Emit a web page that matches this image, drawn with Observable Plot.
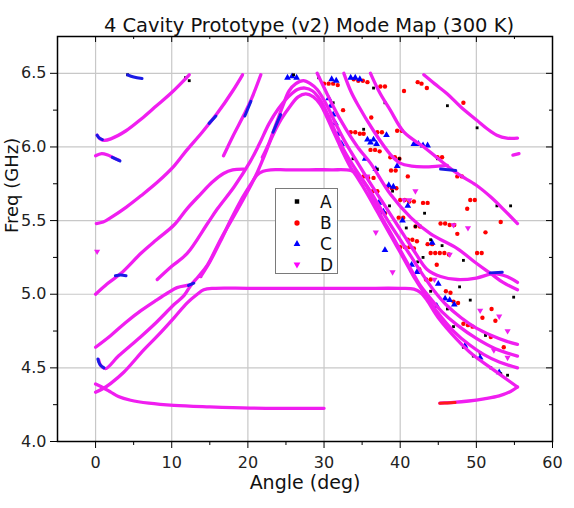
<!DOCTYPE html>
<html><head><meta charset="utf-8">
<script src="https://cdn.jsdelivr.net/npm/d3@7"></script>
<script src="https://cdn.jsdelivr.net/npm/@observablehq/plot@0.6"></script>
<style>
body{margin:0;background:#fff;}
#wrap{position:relative;width:574px;height:508px;}
#legend{position:absolute;left:275px;top:188px;width:61px;height:84px;border:1px solid #7a7a7a;background:#fff;}
#legend svg{overflow:visible;display:block;}
</style></head><body><div id="wrap"><div id="legend"></div></div>
<script>
// ---- axis ticks ----
const xMajor = [0, 10, 20, 30, 40, 50, 60];
const xMinor = [5, 15, 25, 35, 45, 55];
const yMajor = [4.0, 4.5, 5.0, 5.5, 6.0, 6.5];
const yMinor = [4.25, 4.75, 5.25, 5.75, 6.25];
const gridXVals = [0, 10, 20, 30, 40, 50];
const gridYVals = [4.5, 5.0, 5.5, 6.0, 6.5];

// ---- legend ----
const legendNames = ["A", "B", "C", "D"];
const legendColors = ["#000000", "#ff0000", "#0000ff", "#ff00ff"];

// ---- series D (magenta) mode curves: [angle deg, freq GHz] ----
const curveTop = [[0.2,6.08],[0.6,6.055],[1.1,6.045],[2,6.055],[4,6.11],[6,6.19],[8,6.28],[10,6.37],[12.3,6.49]];
const curveShort = [[0,5.94],[0.8,5.955],[1.6,5.945],[2.4,5.925],[3.1,5.91]];
const curve549 = [[0.1,5.48],[1,5.49],[2,5.52],[4,5.59],[6,5.67],[8.1,5.76],[10.3,5.87],[12,5.98],[14,6.10],[16,6.23],[18,6.38],[19.3,6.49]];
const curve500 = [[0,5.0],[1.5,5.07],[3.3,5.14],[6,5.28],[8,5.37],[10.3,5.47],[12,5.58],[13.8,5.68],[15.3,5.76],[16.8,5.82],[18,5.845],[19.5,5.85]];
const curve594 = [[16.8,5.94],[18,6.07],[19.5,6.22],[20.5,6.33],[21.7,6.49]];
const curve510 = [[8.1,5.10],[10,5.19],[12,5.275],[14.7,5.48],[16,5.58],[18.2,5.73],[20.3,5.90],[21.5,6.02],[22.8,6.16],[24,6.26],[25.3,6.34],[26.5,6.39],[27.5,6.40],[28.5,6.38],[29.5,6.32],[30.5,6.22],[31.5,6.10],[32.5,5.99],[33.5,5.90],[34.5,5.82],[35.7,5.73],[37,5.62],[38.5,5.49],[40,5.37],[41.5,5.25],[43,5.13],[44.5,5.02],[46,4.93],[48,4.84],[50,4.77],[52,4.72],[54,4.68],[55.4,4.66]];
const curve593 = [[21.9,5.93],[22.8,6.03],[23.8,6.17],[24.6,6.28],[25.4,6.38],[26.3,6.43],[27.3,6.45],[28.2,6.43],[29.1,6.39],[30.4,6.28],[31.7,6.14],[32.6,6.05],[33.5,5.97],[34.8,5.86],[36,5.76],[37.5,5.64],[39,5.52],[40.5,5.40],[42,5.28],[43.5,5.17],[45.3,5.12],[47.5,5.10],[50,5.11],[52.3,5.14],[54,5.12],[55.4,5.08]];
const curve464 = [[0,4.64],[2,4.72],[4,4.81],[6,4.89],[8,4.96],[9.5,5.01],[10.7,5.045],[12,5.06],[12.5,5.065]];
const curveHook = [[0.4,4.555],[0.7,4.515],[1.3,4.495],[3,4.58],[5.9,4.71],[8,4.81],[10.3,4.93],[11.6,4.99],[12.5,5.06],[13.5,5.12],[14.7,5.20],[16.5,5.38],[18.6,5.57],[20.8,5.78],[22,5.92],[23.2,6.07],[24.4,6.19],[25.6,6.28],[26.6,6.34],[27.6,6.36],[28.6,6.34],[29.5,6.29],[30.3,6.21],[31,6.13],[31.8,6.04],[32.6,5.95],[33.5,5.86],[34.4,5.79],[35.7,5.68],[37,5.56],[38.3,5.44],[39.5,5.33],[40.7,5.22],[42,5.10],[43.5,4.98],[45,4.87],[47,4.75],[49,4.66],[51,4.59],[53,4.54],[55.4,4.50]];
const curvePlateau584 = [[13.8,5.12],[15,5.22],[16.5,5.37],[17.7,5.50],[19,5.63],[20.3,5.74],[21.2,5.81],[22,5.835],[23,5.845],[25,5.845],[28,5.845],[31,5.845],[33.5,5.84],[34.5,5.81],[35.5,5.74],[36.5,5.64],[37.5,5.53],[38.7,5.42],[40,5.30],[41.3,5.18],[42.5,5.07],[44,4.97],[45.5,4.88],[47.5,4.79],[50,4.70],[52.5,4.63],[55.4,4.58]];
const curvePlateau504 = [[0,4.335],[1,4.36],[2,4.395],[3.7,4.47],[6.3,4.62],[8,4.71],[10.3,4.84],[12,4.94],[13.35,5.0],[14.2,5.03],[15.5,5.04],[20,5.04],[25,5.04],[30,5.04],[35,5.04],[40,5.04],[41.8,5.035],[42.7,5.01],[43.5,4.96],[45,4.84],[47.5,4.69],[49.5,4.59],[51.9,4.50],[53.5,4.44],[55.4,4.37]];
const curveLow = [[0,4.39],[1,4.365],[2,4.335],[3,4.305],[4.6,4.28],[7,4.26],[10.3,4.245],[15,4.235],[20.3,4.227],[25,4.225],[30,4.225]];
const curveHookRight = [[45.2,4.26],[47,4.265],[49,4.275],[51,4.29],[53,4.31],[54.5,4.34],[55.4,4.37]];
const curveRa = [[43.1,6.49],[44.5,6.43],[46.2,6.36],[48,6.27],[50.1,6.18],[51.5,6.12],[52.7,6.08],[54,6.06],[55.4,6.06]];
const curveRb = [[36.1,6.50],[37.3,6.37],[38.7,6.25],[40.5,6.10],[43.1,6.0],[45,5.92],[47.5,5.82],[50,5.74],[51.9,5.66],[53.5,5.58],[55.4,5.48]];
const curveRc = [[32.6,6.50],[33.5,6.38],[34.4,6.29],[36.5,6.11],[38.7,5.95],[40,5.89],[41.5,5.87],[43.1,5.865],[45,5.87],[46.2,5.875]];
const curveRd = [[29.1,6.50],[30.5,6.35],[32.2,6.18],[34.4,6.0],[36.1,5.89],[38.7,5.68],[41.4,5.52],[44,5.41],[47.5,5.31],[50,5.21],[51.9,5.14],[53.5,5.08],[55.4,5.03]];
const curveDash = [[54.8,5.945],[55.6,5.955]];

// ---- series C (blue) segments visible along the curves ----
const blueSeg1 = [[0.2,6.08],[0.5,6.06],[0.9,6.05]];
const blueSeg2 = [[2.2,5.93],[2.7,5.918],[3.2,5.905]];
const blueSeg3 = [[4.2,6.49],[5,6.475],[6.1,6.465]];
const blueSeg4 = [[2.6,5.125],[3.3,5.13],[4.0,5.125]];
const blueSeg5 = [[0.3,4.56],[0.6,4.52],[1.1,4.50]];
const blueSeg6 = [[14.9,6.16],[15.8,6.21]];
const blueSeg7 = [[19.6,6.21],[20.4,6.31]];
const blueSeg8 = [[23.3,6.10],[24.3,6.22]];
const blueSeg9 = [[12.2,5.06],[12.9,5.075]];
const blueSeg10 = [[51.8,5.145],[53.4,5.15]];
const blueSeg11 = [[45.3,5.85],[47.3,5.84]];
// ---- series B (red) segment ----
const redSeg1 = [[45.2,4.26],[46.2,4.262],[47.2,4.265]];

// ---- scattered points ----
const seriesA = [[4.2,6.49],[11.8,6.47],[12.3,6.45],[26.0,6.49],[29.3,6.47],[46.2,6.28],[50.1,6.13],[52.7,5.60],[54.5,5.60],[13.8,5.12],[38.0,6.30],[44.9,5.92],[39.9,5.92],[42.0,5.46],[41.4,5.16],[42.3,5.22],[44.0,5.37],[48.3,5.23],[45.5,5.33],[49.2,4.96],[47.0,4.78],[48.3,4.64],[49.6,4.58],[51.9,4.50],[53.2,4.46],[54.1,4.45],[54.9,4.98],[51.2,4.72],[46.2,4.90],[44.0,5.02],[36.5,6.40],[31.2,6.30],[33.8,5.92],[39.0,5.70],[43.2,5.55],[47.8,5.05],[50.5,4.60],[37.0,5.85],[38.6,5.60],[40.8,5.45],[35.2,6.12],[43.0,5.25]];
const seriesB = [[30.0,6.43],[30.6,6.43],[31.2,6.43],[31.8,6.42],[33.9,6.46],[34.5,6.45],[35.1,6.45],[35.7,6.44],[37.4,6.41],[38.0,6.41],[42.3,6.44],[42.8,6.43],[48.3,6.30],[33.5,6.10],[34.1,6.10],[34.7,6.09],[35.2,6.09],[37.0,6.10],[37.6,6.10],[39.6,6.11],[40.2,6.11],[36.1,5.98],[36.7,5.98],[37.3,5.97],[38.7,5.93],[39.3,5.93],[39.9,5.92],[44.9,5.93],[45.5,5.93],[47.5,5.80],[48.1,5.80],[41.0,5.80],[35.2,5.80],[35.8,5.79],[36.5,5.79],[38.3,5.73],[38.9,5.72],[39.5,5.72],[40.0,5.64],[40.6,5.64],[41.2,5.63],[41.8,5.63],[37.4,5.56],[38.0,5.55],[43.0,5.62],[43.6,5.62],[45.3,5.48],[45.9,5.48],[46.5,5.47],[47.1,5.47],[42.0,5.46],[42.6,5.46],[41.0,5.37],[41.6,5.37],[42.2,5.36],[43.6,5.34],[44.2,5.34],[49.2,5.64],[49.8,5.64],[53.2,5.49],[47.5,5.41],[44.0,5.28],[44.6,5.28],[45.2,5.28],[45.8,5.28],[46.4,5.27],[50.1,5.28],[50.7,5.28],[40.0,5.32],[40.6,5.32],[41.2,5.32],[41.8,5.31],[47.0,4.95],[47.6,4.94],[48.3,4.80],[48.9,4.79],[49.5,4.78],[51.9,4.71],[53.6,4.64],[52.0,4.90],[44.8,5.20],[42.5,5.17],[50.8,4.84],[52.5,4.82],[40.5,6.38],[43.5,6.40],[32.5,6.25],[36.2,6.20],[38.8,5.84],[39.4,5.84],[36.4,5.70],[37.0,5.70],[39.8,5.52],[40.4,5.52],[43.4,5.10],[44.0,5.10],[46.0,5.02],[46.6,5.01],[48.8,5.58],[51.2,5.42]];
const seriesC = [[25.2,6.47],[25.8,6.48],[26.4,6.47],[31.0,6.46],[31.6,6.45],[33.5,6.47],[34.1,6.47],[34.7,6.46],[30.6,6.33],[30.9,6.28],[31.2,6.22],[31.5,6.16],[31.9,6.09],[32.3,6.02],[35.7,6.05],[36.1,6.03],[36.5,6.05],[36.9,6.02],[38.2,6.08],[41.8,6.02],[42.4,6.02],[43.0,6.01],[43.6,6.01],[38.5,5.74],[39.1,5.73],[37.8,5.56],[44.2,5.35],[41.5,5.20],[42.2,5.15],[45.9,4.97],[46.5,4.96],[47.1,4.93],[48.5,4.65],[50.5,4.57],[53.0,4.47],[39.6,5.87],[36.8,5.85],[37.2,5.62],[40.3,5.50],[45.0,5.07],[35.4,5.92],[38.0,5.30],[41.0,5.60],[44.8,4.92]];
const seriesDpts = [[0.2,5.29],[40.5,5.64],[41.2,5.64],[47.0,5.47],[46.5,5.27],[50.5,4.89],[54.1,4.75],[52.3,4.62],[54.1,4.57],[35.7,5.80],[36.8,5.42],[39.0,5.15],[44.5,5.10],[42.0,5.70],[48.9,5.45],[53.0,4.85]];

const D_COLOR = "#f01ef0";
const dCurves = [curveTop, curveShort, curve549, curve500, curve594, curve510, curve593, curve464, curveHook, curvePlateau584, curvePlateau504, curveLow, curveHookRight, curveRa, curveRb, curveRc, curveRd, curveDash];
const blueSegs = [blueSeg1, blueSeg2, blueSeg3, blueSeg4, blueSeg5, blueSeg6, blueSeg7, blueSeg8, blueSeg9, blueSeg10, blueSeg11];
const redSegs = [redSeg1];
const toRows = (list) => list.flatMap((c, i) => c.map(([a, f]) => ({a, f, id: i})));
const toPts = (list) => list.map(([a, f]) => ({a, f}));

const FONT = "DejaVu Sans, Liberation Sans, Arial, sans-serif";
const frameH = 508 - 36 - 67;
const frameW = 574 - 57 - 22;

const chart = Plot.plot({
  width: 574, height: 508,
  marginLeft: 57, marginRight: 22, marginTop: 36, marginBottom: 67,
  style: {fontFamily: FONT, fontSize: "15px", background: "#fff", color: "#222"},
  x: {domain: [-5, 60]},
  y: {domain: [4.0, 6.75]},
  marks: [
    Plot.gridX(gridXVals, {stroke: "#c8c8c8", strokeOpacity: 1, strokeWidth: 1.2}),
    Plot.gridY(gridYVals, {stroke: "#c8c8c8", strokeOpacity: 1, strokeWidth: 1.2}),
    Plot.dot(toPts(seriesB), {x: "a", y: "f", fill: "#ff0000", r: 2.2, symbol: "circle"}),
    Plot.dot(toPts(seriesC), {x: "a", y: "f", fill: "#0000ff", r: 2.5, symbol: "triangle"}),
    Plot.dot(toPts(seriesA), {x: "a", y: "f", fill: "#000", r: 1.6, symbol: "square"}),
    Plot.line(toRows(dCurves), {x: "a", y: "f", z: "id", stroke: D_COLOR, strokeWidth: 3.3, curve: "catmull-rom"}),
    Plot.line(toRows(blueSegs), {x: "a", y: "f", z: "id", stroke: "#1a1ae6", strokeWidth: 3, curve: "catmull-rom"}),
    Plot.line(toRows(redSegs), {x: "a", y: "f", z: "id", stroke: "#ff1a1a", strokeWidth: 3, curve: "catmull-rom"}),
    Plot.dot(toPts(seriesDpts), {x: "a", y: "f", fill: D_COLOR, r: 2.3, symbol: "triangle", rotate: 180}),
    Plot.frame({stroke: "#000", strokeWidth: 1.5}),
    Plot.axisX(xMajor, {anchor: "bottom", tickSize: 7, tickPadding: 8, fontSize: 16, label: null, stroke: "#000"}),
    Plot.axisX(xMinor, {anchor: "bottom", tickSize: 4, tickFormat: () => "", label: null, stroke: "#000"}),
    Plot.axisY(yMajor, {anchor: "left", tickSize: 7, tickPadding: 4, fontSize: 16, tickFormat: d => d.toFixed(1), label: null, stroke: "#000"}),
    Plot.axisY(yMinor, {anchor: "left", tickSize: 4, tickFormat: () => "", label: null, stroke: "#000"}),
    Plot.tickX(xMajor, {x: d => d, insetBottom: frameH - 6, stroke: "#000"}),
    Plot.tickX(xMinor, {x: d => d, insetBottom: frameH - 3, stroke: "#000"}),
    Plot.tickY(yMajor, {y: d => d, insetLeft: frameW - 6, stroke: "#000"}),
    Plot.tickY(yMinor, {y: d => d, insetLeft: frameW - 3, stroke: "#000"}),
    Plot.text(["4 Cavity Prototype (v2) Mode Map (300 K)"], {text: d => d, frameAnchor: "top", dy: -18, dx: 4, fontSize: 19.5, fill: "#111"}),
    Plot.text(["Angle (deg)"], {text: d => d, frameAnchor: "bottom", dy: 47, fontSize: 19, fill: "#111"}),
    Plot.text(["Freq (GHz)"], {text: d => d, frameAnchor: "left", dx: -45, dy: -6, rotate: -90, fontSize: 18, fill: "#111"})
  ]
});
document.getElementById("wrap").prepend(chart);

// legend
const lg = d3.select("#legend").append("svg").attr("width", 61).attr("height", 84);
const symbolTypes = [d3.symbolSquare, d3.symbolCircle, d3.symbolTriangle, d3.symbolTriangle];
const rowY = [12.5, 34, 55, 75.5];
legendNames.forEach((name, i) => {
  const g = lg.append("g").attr("transform", `translate(21,${rowY[i]})` + (i === 3 ? " rotate(180)" : ""));
  g.append("path").attr("d", d3.symbol(symbolTypes[i], i === 1 ? 22 : 20)()).attr("fill", legendColors[i]);
  lg.append("text").attr("x", 44).attr("y", rowY[i]).attr("dy", "0.36em")
    .attr("font-family", FONT).attr("font-size", 17).attr("fill", "#111").text(name);
});
</script></body></html>
